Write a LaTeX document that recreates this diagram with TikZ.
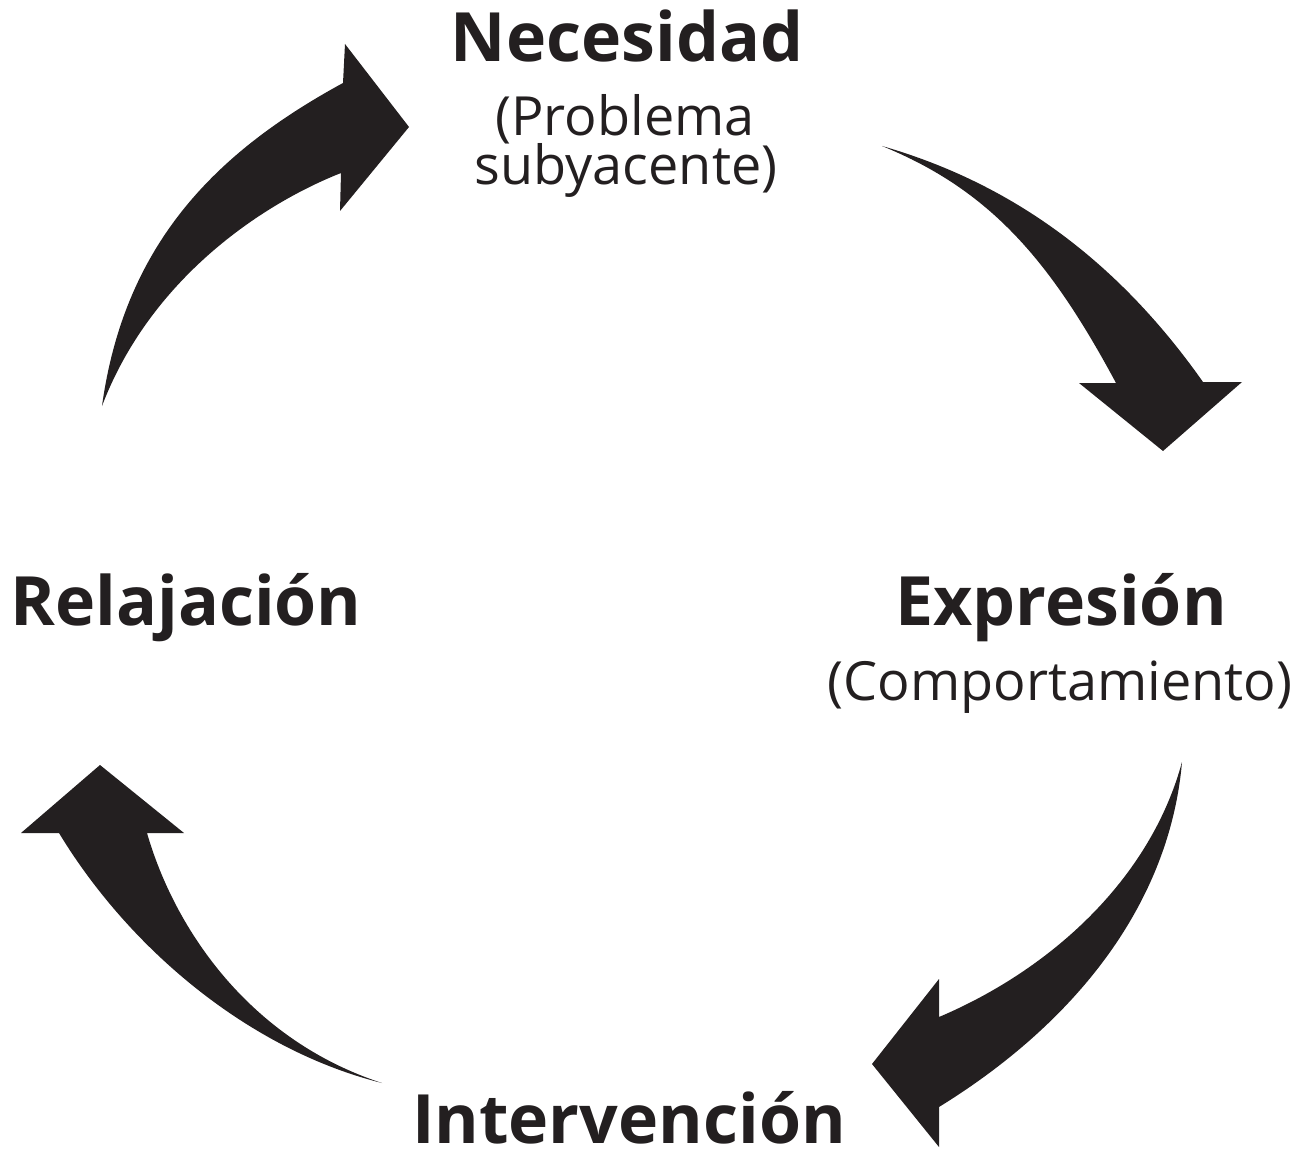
\documentclass[tikz,border=0pt]{standalone}
\usepackage{fontspec}
\setmainfont{Open Sans}
\definecolor{ink}{HTML}{231F20}
\begin{document}
\begin{tikzpicture}[x=1pt,y=-1pt,
  bigarrow/.style={fill=ink,draw=none},
  title/.style={inner sep=0pt,anchor=base,text=ink,font=\fontsize{68}{72}\selectfont\bfseries},
  sub/.style={inner sep=0pt,anchor=base,text=ink,font=\fontsize{54}{54}\selectfont}]
\useasboundingbox (0,0) rectangle (1312,1150);
% texts
\node[title] (nec) at (627,62) {Necesidad};
\node[sub] (nec1) at (625,136) {(Problema};
\node[sub] (nec2) at (626,185) {subyacente)};
\node[title] (rel) at (186,625) {Relajación};
\node[title] (exp) at (1061,625) {Expresión};
\node[sub] (exp1) at (1060,700) {(Comportamiento)};
\node[title,text depth=0pt] (int) at (629,1143) {Intervención};
% arrow 1: Relajacion -> Necesidad
\fill[bigarrow] (102,406) .. controls (125,240) and (220,150) .. (343,83)
  -- (345,44) -- (409,127) -- (340,211) -- (341,173)
  .. controls (260,205) and (150,280) .. (102,406) -- cycle;
% arrow 2: Necesidad -> Expresion
\fill[bigarrow] (882,146) .. controls (1000,180) and (1110,250) .. (1203,382)
  -- (1242,382) -- (1163,451) -- (1079,383) -- (1116,383)
  .. controls (1050,260) and (990,190) .. (882,146) -- cycle;
% arrow 3: Expresion -> Intervencion
\fill[bigarrow] (1182,762) .. controls (1170,900) and (1080,1020) .. (939,1107)
  -- (939,1147) -- (872,1064) -- (939,979) -- (939,1017)
  .. controls (1050,970) and (1150,880) .. (1182,762) -- cycle;
% arrow 4: Intervencion -> Relajacion
\fill[bigarrow] (382,1083) .. controls (250,1050) and (130,950) .. (59,833)
  -- (21,833) -- (100,765) -- (184,833) -- (147,833)
  .. controls (175,930) and (250,1040) .. (382,1083) -- cycle;
\end{tikzpicture}
\end{document}
